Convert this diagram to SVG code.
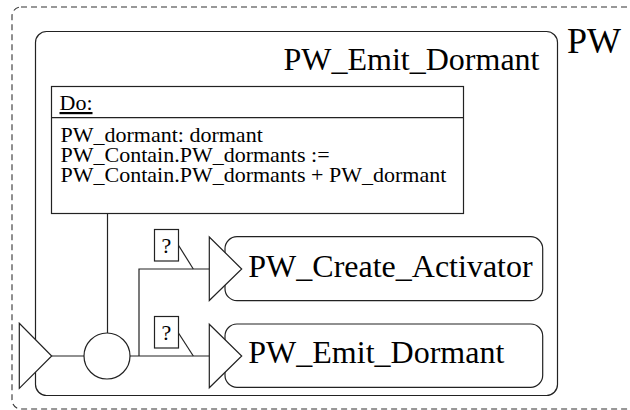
<svg xmlns="http://www.w3.org/2000/svg" width="630" height="410" viewBox="0 0 630 410">
<style>
.ln{fill:none;stroke:#222;stroke-width:1.2}
.bx{fill:#fff;stroke:#222;stroke-width:1.2}
.big{font-size:32px}
.sm{font-size:22px}
</style>
<g font-family="'Liberation Serif', 'Times New Roman', serif" fill="#000">
<rect x="12" y="7" width="640" height="402" rx="9" fill="none" stroke="#333" stroke-width="1.1" stroke-dasharray="6,4"/>
<text x="567" y="53" font-size="36">PW</text>
<g id="PW_Emit_Dormant_container">
<rect class="bx" x="35.5" y="31.5" width="522" height="364" rx="11"/>
<text class="big" x="539.5" y="70" text-anchor="end">PW_Emit_Dormant</text>
</g>
<g id="connectors">
<line class="ln" x1="107.5" y1="213" x2="107.5" y2="333"/>
<line class="ln" x1="51.7" y1="356" x2="84" y2="356"/>
<polyline class="ln" points="130,356 209.3,356"/>
<polyline class="ln" points="139,356 139,269 209.3,269"/>
<line class="ln" x1="178.3" y1="245" x2="193.3" y2="269"/>
<line class="ln" x1="178.3" y1="332.7" x2="193.3" y2="356"/>
</g>
<g id="do_box">
<rect class="bx" x="51.5" y="86.5" width="412" height="127"/>
<line class="ln" x1="51.5" y1="117.7" x2="463.5" y2="117.7"/>
<text class="sm" x="59.5" y="110" text-decoration="underline">Do:</text>
<text class="sm" x="60.5" y="141.7">PW_dormant: dormant</text>
<text class="sm" x="60.5" y="161.7">PW_Contain.PW_dormants :=</text>
<text class="sm" x="60.5" y="181.7">PW_Contain.PW_dormants + PW_dormant</text>
</g>
<g id="entry">
<polygon class="bx" points="19.3,323.3 19.3,388.3 51.7,356"/>
</g>
<g id="junction">
<circle class="bx" cx="107" cy="356" r="23"/>
</g>
<g id="guard1">
<rect class="bx" x="154.5" y="229.5" width="24" height="31.5"/>
<text class="sm" x="166.5" y="253" text-anchor="middle">?</text>
</g>
<g id="guard2">
<rect class="bx" x="154.5" y="316.5" width="24" height="31.5"/>
<text class="sm" x="166.5" y="340" text-anchor="middle">?</text>
</g>
<g id="PW_Create_Activator">
<rect class="bx" x="225" y="236.7" width="317.7" height="64" rx="12"/>
<polygon class="bx" points="209.3,237 209.3,300.5 241.7,269"/>
<text class="big" x="248.3" y="277">PW_Create_Activator</text>
</g>
<g id="PW_Emit_Dormant">
<rect class="bx" x="225" y="324" width="317.7" height="63.3" rx="12"/>
<polygon class="bx" points="209.3,324.3 209.3,387.7 241.7,356"/>
<text class="big" x="248.3" y="363.3">PW_Emit_Dormant</text>
</g>
</g>
</svg>
